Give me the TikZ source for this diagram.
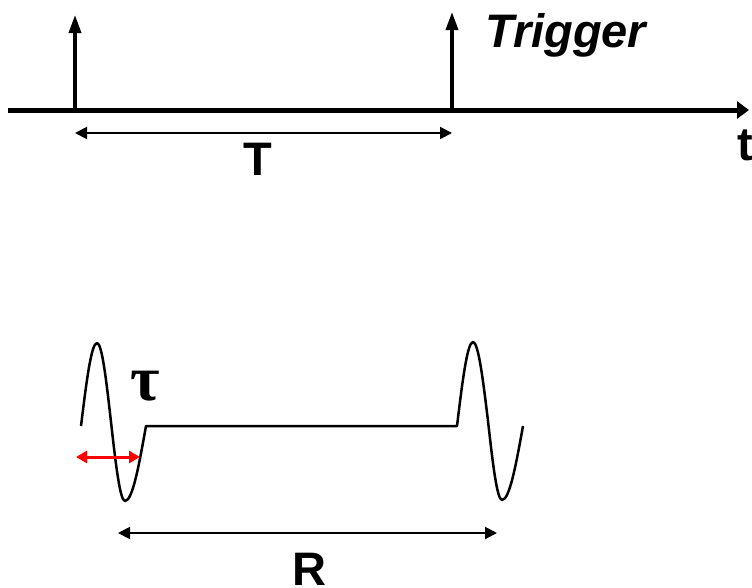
\documentclass[tikz,border=0pt]{standalone}
\usepackage{fontspec}
\setmainfont{Liberation Sans}
\newfontfamily\greekfont{Liberation Serif}
\usetikzlibrary{arrows.meta}

\begin{document}
\begin{tikzpicture}[x=1pt,y=-1pt, axis/.style={line width=5pt,-{Triangle[length=12pt,width=17pt]}}, pulse/.style={line width=3.5pt,-{Triangle[length=18pt,width=12pt]}}, dim/.style={line width=2pt,{Triangle[length=12pt,width=12pt]}-{Triangle[length=12pt,width=12pt]}}, wave/.style={line width=2.5pt,line join=round}, lbl/.style={font=\fontsize{47}{47}\selectfont\bfseries,inner sep=0pt}]
\useasboundingbox (0,0) rectangle (752,587);
% time axis with trigger pulses
\coordinate (a0) at (8,110); \coordinate (a1) at (749,110);
\coordinate (p1) at (75,110); \coordinate (p1t) at (75,15);
\coordinate (p2) at (452,110); \coordinate (p2t) at (452,12);
\draw[axis] (a0)--(a1);
\draw[pulse] (p1)--(p1t);\draw[pulse] (p2)--(p2t);
\node[lbl,anchor=base west,font=\fontsize{47}{47}\selectfont\bfseries\itshape] (trig) at (485,47) {Trigger};
\node[lbl,anchor=base west] (tlab) at (737,160) {t};
\coordinate (d1) at (75,133); \coordinate (d2) at (452,133);
\draw[dim] (d1)--(d2);
\node[lbl,anchor=base] (per) at (258,175) {T};
% received echo
\coordinate (w0) at (81,426); \coordinate (w1) at (146,426); \coordinate (w2) at (457,426);
\draw[wave] (w0) sin (97,343) cos (111,422) sin (125,501) cos (w1)--(w2) sin (473,342) cos (488,421) sin (502,500) cos (523,426);
\coordinate (r1) at (76,457); \coordinate (r2) at (140,457);
\draw[line width=3pt,red,{Triangle[length=11pt,width=12pt]}-{Triangle[length=11pt,width=12pt]}] (r1)--(r2);
\node[inner sep=0pt,anchor=base,font=\fontsize{64}{64}\greekfont\bfseries] (tau) at (145,400) {τ};
\coordinate (e1) at (118,533); \coordinate (e2) at (497,533);
\draw[dim] (e1)--(e2);
\node[lbl,anchor=base] (rng) at (309,585) {R};
\end{tikzpicture}
\end{document}
